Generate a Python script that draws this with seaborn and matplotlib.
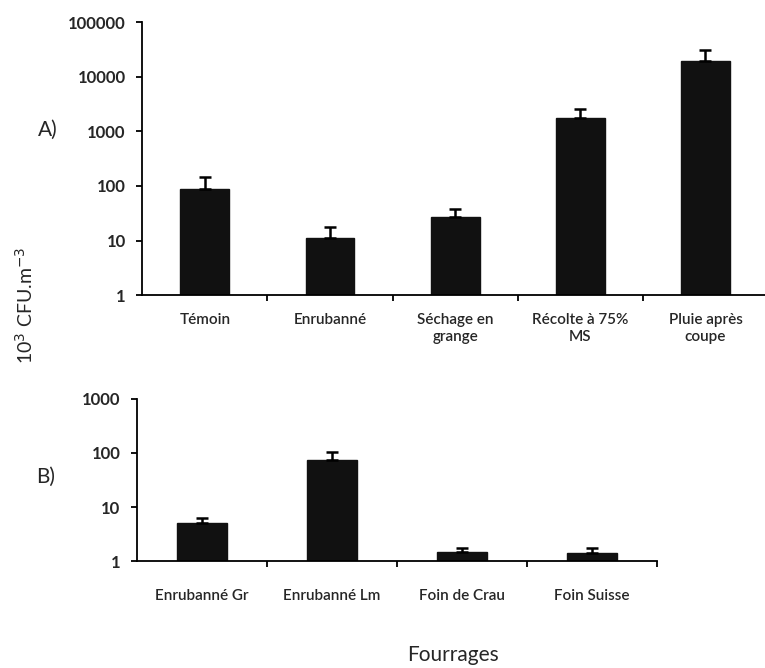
import matplotlib
matplotlib.use("Agg")
import matplotlib.pyplot as plt
import seaborn as sns
from matplotlib.ticker import FixedLocator, FuncFormatter, NullLocator

# panel A data (10^3 CFU.m-3)
cats_a = ["Témoin", "Enrubanné", "Séchage en\ngrange", "Récolte à 75%\nMS", "Pluie après\ncoupe"]
vals_a = [88, 11, 27, 1750, 19500]
err_a = [145, 17.5, 38, 2550, 31000]

# panel B data
cats_b = ["Enrubanné Gr", "Enrubanné Lm", "Foin de Crau", "Foin Suisse"]
vals_b = [5.0, 74, 1.45, 1.4]
err_b = [6.3, 104, 1.75, 1.75]

sns.set_theme(style="white")
plt.rcParams["font.family"] = ["Lato", "DejaVu Sans"]

fig = plt.figure(figsize=(7.65, 6.68), dpi=100)
ax_a = fig.add_axes([0.186, 0.558, 0.818, 0.409])
ax_b = fig.add_axes([0.179, 0.160, 0.680, 0.243])


def draw_panel(ax, cats, vals, errs, top, pad):
    sns.barplot(x=cats, y=vals, ax=ax, color="#111111", width=0.39,
                saturation=1, edgecolor="#111111")
    pos = list(range(len(cats)))
    upper = [e - v for e, v in zip(errs, vals)]
    ax.errorbar(pos, vals, yerr=[[0] * len(vals), upper], fmt="none",
                ecolor="black", elinewidth=1.8, capsize=4.5, capthick=1.8)
    ax.set_yscale("log")
    ax.set_ylim(1, top)
    ax.set_xlim(-0.5, len(cats) - 0.5)
    ticks = [10 ** i for i in range(0, len(str(int(top))))]
    ax.yaxis.set_major_locator(FixedLocator(ticks))
    ax.yaxis.set_minor_locator(NullLocator())
    ax.yaxis.set_major_formatter(FuncFormatter(lambda v, p: f"{int(round(v))}"))
    ax.xaxis.set_minor_locator(FixedLocator([i + 0.5 for i in range(len(cats))]))
    ax.tick_params(axis="x", which="major", length=0, pad=pad, labelsize=11)
    ax.tick_params(axis="x", which="minor", length=4, width=1.3, color="black", bottom=True)
    ax.tick_params(axis="y", which="major", length=4, width=1.3, color="black",
                   left=True, labelsize=12, pad=8)
    for lab in ax.get_yticklabels():
        lab.set_fontweight("bold")
    for lab in ax.get_xticklabels():
        lab.set_fontweight("semibold")
    for s in ["top", "right"]:
        ax.spines[s].set_visible(False)
    for s in ["left", "bottom"]:
        ax.spines[s].set_color("black")
        ax.spines[s].set_linewidth(1.3)
    ax.set_xlabel("")
    ax.set_ylabel("")


draw_panel(ax_a, cats_a, vals_a, err_a, 100000, 13)
draw_panel(ax_b, cats_b, vals_b, err_b, 1000, 20)

fig.text(0.063, 0.805, "A)", fontsize=15, ha="center", va="center")
fig.text(0.060, 0.286, "B)", fontsize=15, ha="center", va="center")
fig.text(0.033, 0.543, "10$^3$ CFU.m$^{-3}$", fontsize=14, rotation=90,
         ha="center", va="center")
fig.text(0.592, 0.020, "Fourrages", fontsize=15, ha="center", va="center")

fig.savefig("out.png", dpi=100)
